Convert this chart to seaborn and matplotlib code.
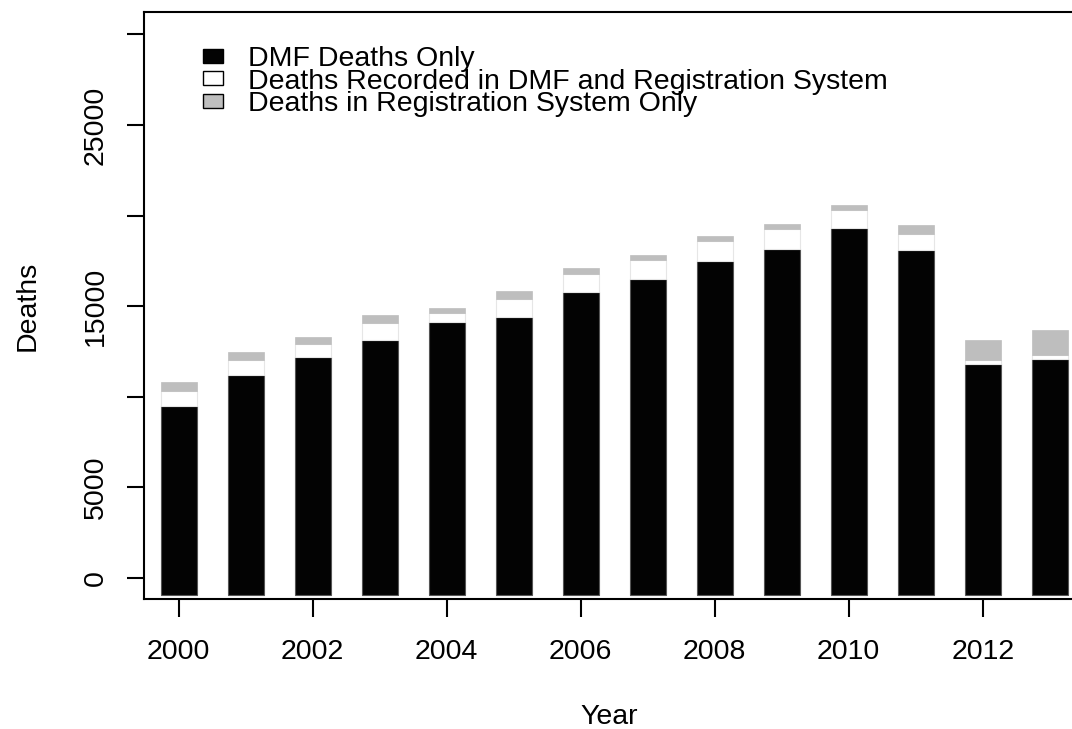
import numpy as np
import pandas as pd
import matplotlib
matplotlib.use("Agg")
import matplotlib.pyplot as plt
import seaborn as sns
from matplotlib.patches import Patch

# data
years = [2000, 2001, 2002, 2003, 2004, 2005, 2006,
         2007, 2008, 2009, 2010, 2011, 2012, 2013]
dmf_only = [9490, 11220, 12180, 13130, 14130, 14390, 15770,
            16480, 17480, 18140, 19300, 18100, 11810, 12090]
dmf_and_reg = [850, 810, 730, 930, 510, 1020, 1020,
               1070, 1120, 1100, 1010, 870, 220, 220]
reg_only = [460, 430, 410, 450, 260, 430, 300,
            280, 270, 300, 280, 530, 1100, 1360]
legend_labels = ["DMF Deaths Only",
                 "Deaths Recorded in DMF and Registration System",
                 "Deaths in Registration System Only"]
y_ticks = [0, 5000, 10000, 15000, 20000, 25000, 30000]
y_ticklabels = ["0", "5000", "", "15000", "", "25000", ""]
x_ticks = [2000, 2002, 2004, 2006, 2008, 2010, 2012]

BASELINE = -940  # bars in the original start a little below zero
BLACK, WHITE, GREY = "#030303", "#ffffff", "#bebebe"

sns.set_theme(style="ticks")
plt.rcParams["font.family"] = ["Liberation Sans", "DejaVu Sans"]
plt.rcParams.update({"text.color": "black", "axes.labelcolor": "black",
                     "xtick.color": "black", "ytick.color": "black",
                     "axes.edgecolor": "black"})
FS = 20.5

df = pd.DataFrame({"year": years, "dmf": dmf_only,
                   "both": dmf_and_reg, "reg": reg_only})
df["black_h"] = df["dmf"] - BASELINE
df["white_bottom"] = df["dmf"]
df["grey_bottom"] = df["dmf"] + df["both"]

fig = plt.figure(figsize=(10.72, 7.29), dpi=100)
W, H = 1072, 729
ax = fig.add_axes([144 / W, 1 - 599 / H, (1075 - 144) / W, (599 - 12) / H])

common = dict(orient="x", native_scale=True, width=0.533, saturation=1,
              errorbar=None, ax=ax)
sns.barplot(x=df["year"], y=df["black_h"], color=BLACK, bottom=BASELINE,
            edgecolor="#555555", linewidth=0.8, **common)
sns.barplot(x=df["year"], y=df["both"], color=WHITE, bottom=df["white_bottom"].values,
            edgecolor="#e6e6e6", linewidth=0.8, **common)
sns.barplot(x=df["year"], y=df["reg"], color=GREY, bottom=df["grey_bottom"].values,
            edgecolor=GREY, linewidth=0.5, **common)

# axis limits to match the original pixel mapping
x0 = 2000 - (178.7 - 144) / 67.0
x1 = 2000 + (1075 - 178.7) / 67.0
ax.set_xlim(x0, x1)
ax.set_ylim(-(599 - 578) / 18.12 * 1000, (578 - 12) / 18.12 * 1000)

ax.set_xticks(x_ticks)
ax.set_xticklabels([str(t) for t in x_ticks], fontsize=FS)
ax.set_yticks(y_ticks)
ax.set_yticklabels(y_ticklabels, fontsize=FS, rotation=90, va="center")

ax.tick_params(axis="x", length=13, width=1.5, pad=16, color="black")
ax.tick_params(axis="y", length=12.2, width=1.5, pad=13, color="black")

for side in ["left", "bottom", "top"]:
    ax.spines[side].set_linewidth(1.5)
    ax.spines[side].set_color("black")
ax.spines["right"].set_visible(False)

ax.set_xlabel("Year", fontsize=FS)
ax.set_ylabel("Deaths", fontsize=FS)
ax.xaxis.set_label_coords(0.5, (599 - 704) / 587)
ax.yaxis.set_label_coords((41 - 144) / 931, 0.5)

handles = [Patch(facecolor=BLACK, edgecolor="black", linewidth=1),
           Patch(facecolor=WHITE, edgecolor="black", linewidth=1),
           Patch(facecolor=GREY, edgecolor="black", linewidth=1)]
ax.legend(handles, legend_labels, loc="upper left",
          bbox_to_anchor=(202.7 / W, 1 - 46 / H), bbox_transform=fig.transFigure,
          frameon=False, fontsize=FS, handlelength=0.70, handleheight=0.39,
          handletextpad=0.89, labelspacing=-0.12, borderpad=0, borderaxespad=0)

fig.savefig("out.png", dpi=100, facecolor="white")
